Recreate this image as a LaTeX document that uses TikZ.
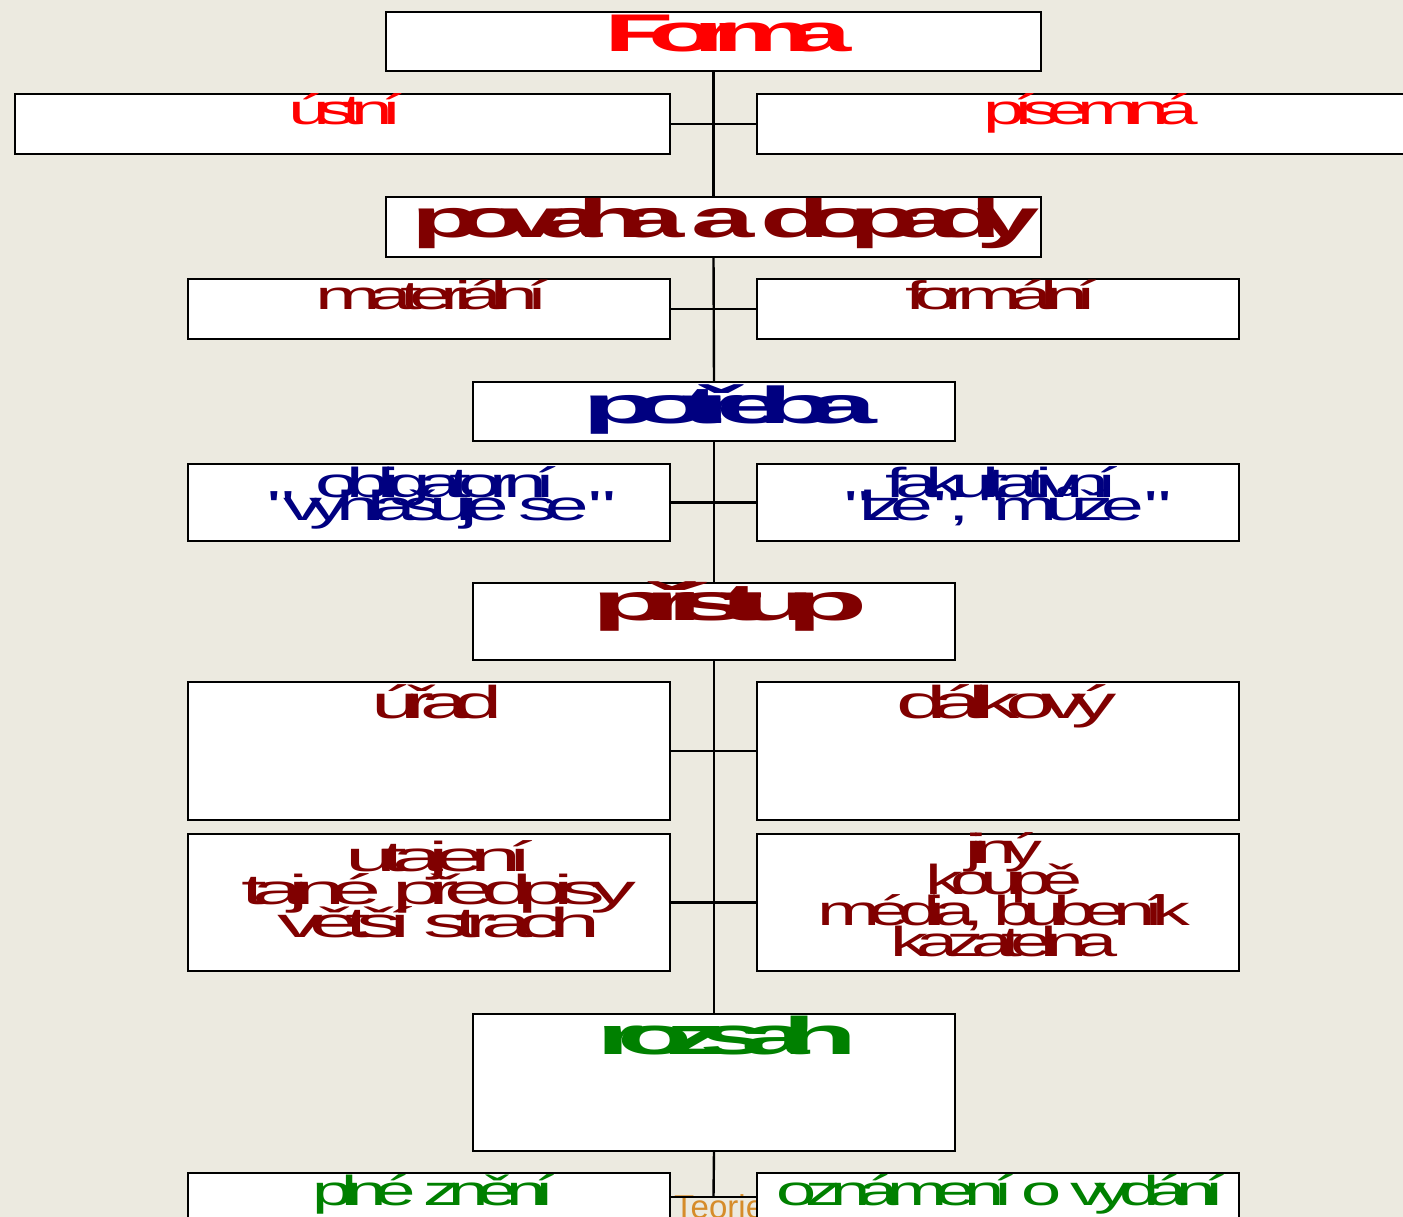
\documentclass[tikz,border=0pt]{standalone}
\usepackage{fontspec}
\setmainfont{Liberation Sans}
\definecolor{bg}{RGB}{236,234,224}
\definecolor{cred}{RGB}{255,0,0}
\definecolor{cdark}{RGB}{128,0,0}
\definecolor{cnavy}{RGB}{0,0,128}
\definecolor{cgreen}{RGB}{0,128,0}
\definecolor{corange}{RGB}{214,140,42}
\newcommand\fsz[1]{\fontsize{#1}{#1}\selectfont}
\newcommand\stx[3]{\resizebox{#1pt}{\height}{\addfontfeature{LetterSpace=#2}#3}}
\newcommand\mlines[2]{\vbox{\baselineskip=#1pt\lineskiplimit=-1000pt\lineskip=0pt\halign{\hfil##\hfil\cr#2\crcr}}}
\newcommand\dq{\XeTeXglyph\XeTeXcharglyph"22\relax\kern-0.16em\relax}
\tikzset{
  bx/.style={draw=black, line width=2pt, fill=white, inner sep=0pt, outer sep=0pt, anchor=north west},
  tx/.style={anchor=base, inner sep=0pt, outer sep=0pt},
  conn/.style={draw=black, line width=2.4pt},
}
\begin{document}
\begin{tikzpicture}[x=1pt,y=-1pt]
\useasboundingbox (0,0) rectangle (1403,1217);
\clip (0,0) rectangle (1403,1217);
\fill[bg] (0,0) rectangle (1403,1217);

% footer text partly hidden
\node[anchor=base west, inner sep=0pt, text=corange, font=\fsz{33}] (teorie) at (674,1218) {Teorie};

% boxes
\node[bx, minimum width=655, minimum height=59] (forma) at (386,12) {};
\node[bx, minimum width=655, minimum height=60] (ustni) at (15,94) {};
\node[bx, minimum width=655, minimum height=60] (pisemna) at (757,94) {};
\node[bx, minimum width=655, minimum height=60] (povaha) at (386,197) {};
\node[bx, minimum width=482, minimum height=60] (material) at (188,279) {};
\node[bx, minimum width=482, minimum height=60] (formal) at (757,279) {};
\node[bx, minimum width=482, minimum height=59] (potreba) at (473,382) {};
\node[bx, minimum width=482, minimum height=77] (oblig) at (188,464) {};
\node[bx, minimum width=482, minimum height=77] (fakult) at (757,464) {};
\node[bx, minimum width=482, minimum height=77] (pristup) at (473,583) {};
\node[bx, minimum width=482, minimum height=138] (urad) at (188,682) {};
\node[bx, minimum width=482, minimum height=138] (dalkovy) at (757,682) {};
\node[bx, minimum width=482, minimum height=137] (utajeni) at (188,834) {};
\node[bx, minimum width=482, minimum height=137] (jiny) at (757,834) {};
\node[bx, minimum width=482, minimum height=137] (rozsah) at (473,1014) {};
\node[bx, minimum width=482, minimum height=60] (plne) at (188,1173) {};
\node[bx, minimum width=482, minimum height=60] (ozn) at (757,1173) {};

% connectors
\coordinate (j6) at (713.5,1197);
\draw[conn] (forma.south) -- (povaha.north);
\draw[conn] (ustni.east) -- (pisemna.west);
\draw[conn] (povaha.south) -- (potreba.north);
\draw[conn] (material.east) -- (formal.west);
\draw[conn] (potreba.south) -- (pristup.north);
\draw[conn] (oblig.east) -- (fakult.west);
\draw[conn] (pristup.south) -- (rozsah.north);
\draw[conn] (urad.east) -- (dalkovy.west);
\draw[conn] (utajeni.east) -- (jiny.west);
\draw[conn] (rozsah.south) -- (j6);
\draw[conn] (plne.east |- j6) -- (ozn.west |- j6);

% texts
\node[tx, text=cred, font=\fsz{53}\bfseries] (tforma) at (728,52) {\stx{247}{-22}{Forma}};
\node[tx, text=cred, font=\fsz{42}] (tustni) at (345,125) {\stx{114}{-16}{ústní}};
\node[tx, text=cred, font=\fsz{42}] (tpisemna) at (1091,125) {\stx{215}{-16}{písemná}};
\node[tx, text=cdark, font=\fsz{54}\bfseries] (tpovaha) at (726,237) {\stx{628}{-22}{povaha a dopady}};
\node[tx, text=cdark, font=\fsz{40}] (tmaterial) at (432,309) {\stx{232}{-16}{materiální}};
\node[tx, text=cdark, font=\fsz{40}] (tformal) at (1001,309) {\stx{192}{-16}{formální}};
\node[tx, text=cnavy, font=\fsz{52}\bfseries] (tpotreba) at (730,423) {\stx{294}{-22}{potřeba}};
\node[tx, text=cnavy, font=\fsz{42}] (toblig) at (436,520) {\stx{336}{-16}{\mlines{23}{obligatorní\cr \dq vyhlašuje se\dq}}};
\node[tx, text=cnavy, font=\fsz{42}] (tfakult) at (1002,520) {\stx{315}{-16}{\mlines{23}{fakultativní\cr \dq lze\dq, \dq může\dq}}};
\node[tx, text=cdark, font=\fsz{52}\bfseries] (tpristup) at (730,620) {\stx{276}{-22}{přístup}};
\node[tx, text=cdark, font=\fsz{46}] (turad) at (437,718) {\stx{131}{-16}{úřad}};
\node[tx, text=cdark, font=\fsz{46}] (tdalkovy) at (1007,718) {\stx{220}{-16}{dálkový}};
\node[tx, text=cdark, font=\fsz{42}] (tutajeni) at (439,937) {\stx{395}{-16}{\mlines{33}{utajení\cr tajné předpisy\cr větší strach}}};
\node[tx, text=cdark, font=\fsz{42}] (tjiny) at (1004,956) {\stx{372}{-16}{\mlines{31}{jiný\cr koupě\cr média, bubeník\cr kazatelna}}};
\node[tx, text=cgreen, font=\fsz{53}\bfseries] (trozsah) at (727,1054) {\stx{261}{-22}{rozsah}};
\node[tx, text=cgreen, font=\fsz{42}] (tplne) at (434,1205) {\stx{242}{-16}{plné znění}};
\node[tx, text=cgreen, font=\fsz{42}] (tozn) at (1001,1205) {\stx{448}{-16}{oznámení o vydání}};
\end{tikzpicture}
\end{document}
